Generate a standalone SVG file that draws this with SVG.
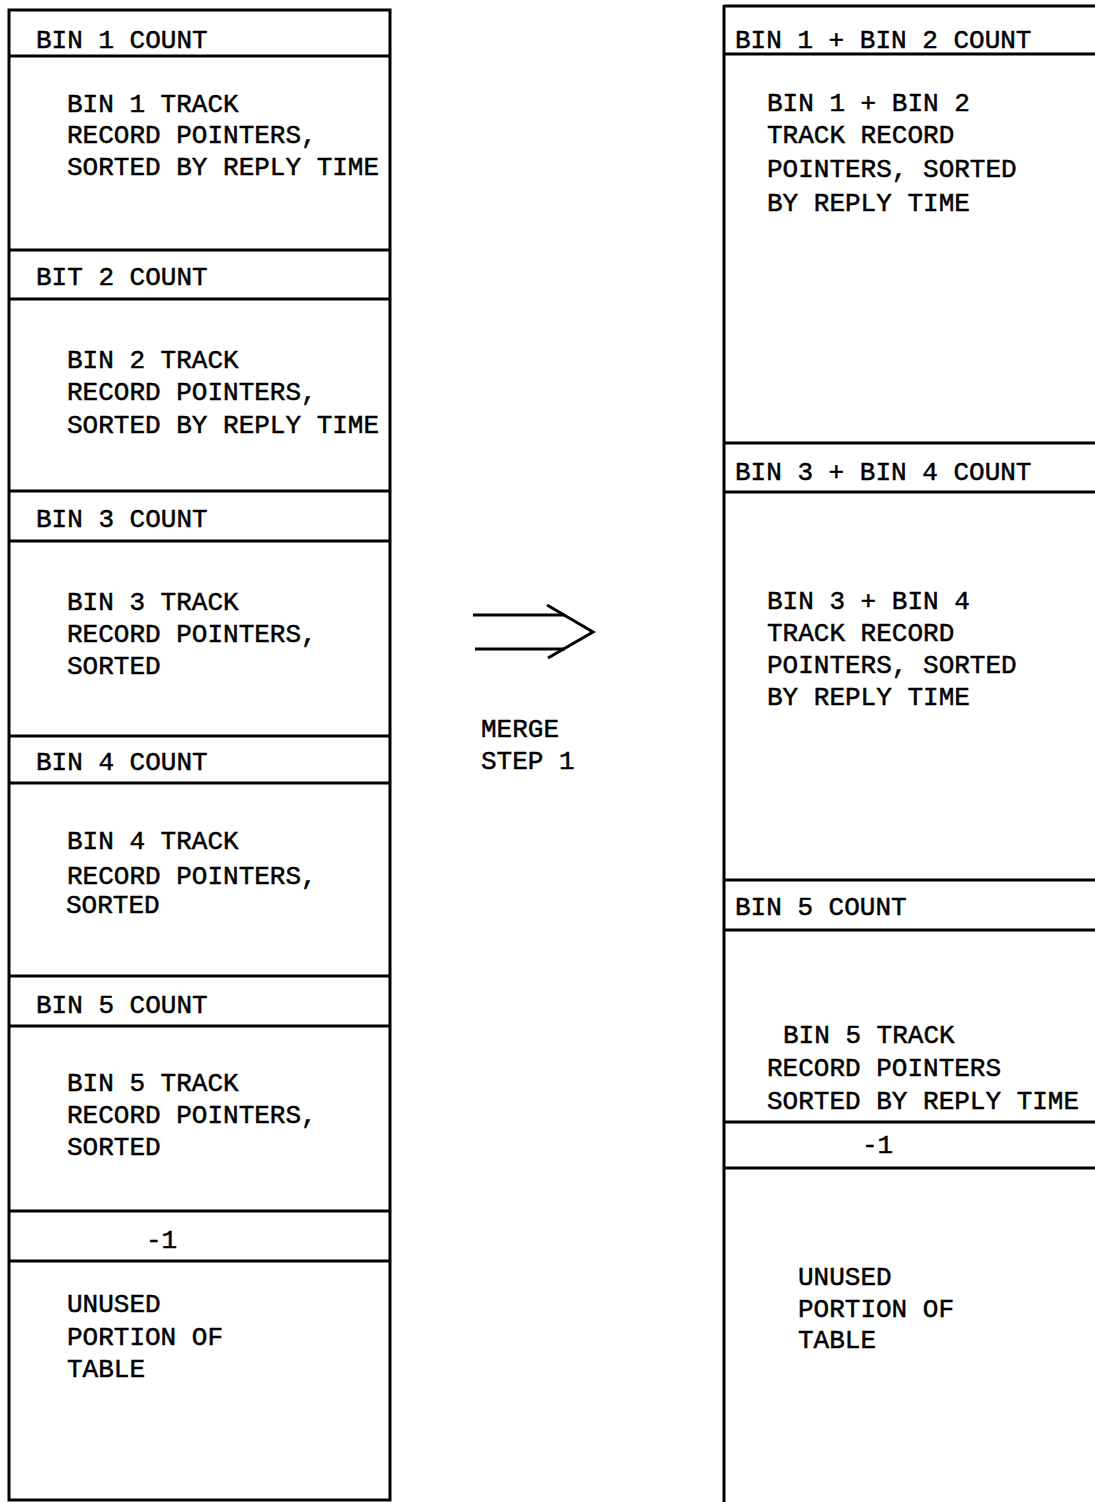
<svg xmlns="http://www.w3.org/2000/svg" width="1095" height="1502" viewBox="0 0 1095 1502">
<style>
.box{fill:none;stroke:#000;stroke-width:3}
.ln{stroke:#000;stroke-width:3;fill:none}
text{font-family:"Liberation Mono","Courier New",monospace;font-size:26px;fill:#000;stroke:#000;stroke-width:0.5}
</style>
<rect width="1095" height="1502" fill="#fff"/>
<g id="left-table">
  <rect class="box" x="9" y="10" width="381" height="1490"/>
  <line class="ln" x1="9" y1="56" x2="390" y2="56"/>
  <line class="ln" x1="9" y1="250" x2="390" y2="250"/>
  <line class="ln" x1="9" y1="299" x2="390" y2="299"/>
  <line class="ln" x1="9" y1="491" x2="390" y2="491"/>
  <line class="ln" x1="9" y1="541" x2="390" y2="541"/>
  <line class="ln" x1="9" y1="736" x2="390" y2="736"/>
  <line class="ln" x1="9" y1="783" x2="390" y2="783"/>
  <line class="ln" x1="9" y1="976" x2="390" y2="976"/>
  <line class="ln" x1="9" y1="1026" x2="390" y2="1026"/>
  <line class="ln" x1="9" y1="1211" x2="390" y2="1211"/>
  <line class="ln" x1="9" y1="1261" x2="390" y2="1261"/>
</g>
<g id="L-bin1-count"><text x="36" y="48">BIN 1 COUNT</text></g>
<g id="L-bin1-body">
  <text x="67" y="112">BIN 1 TRACK</text>
  <text x="67" y="143">RECORD POINTERS,</text>
  <text x="67" y="175">SORTED BY REPLY TIME</text>
</g>
<g id="L-bin2-count"><text x="36" y="285">BIT 2 COUNT</text></g>
<g id="L-bin2-body">
  <text x="67" y="368">BIN 2 TRACK</text>
  <text x="67" y="400">RECORD POINTERS,</text>
  <text x="67" y="433">SORTED BY REPLY TIME</text>
</g>
<g id="L-bin3-count"><text x="36" y="527">BIN 3 COUNT</text></g>
<g id="L-bin3-body">
  <text x="67" y="610">BIN 3 TRACK</text>
  <text x="67" y="642">RECORD POINTERS,</text>
  <text x="67" y="674">SORTED</text>
</g>
<g id="L-bin4-count"><text x="36" y="770">BIN 4 COUNT</text></g>
<g id="L-bin4-body">
  <text x="67" y="849">BIN 4 TRACK</text>
  <text x="67" y="884">RECORD POINTERS,</text>
  <text x="66" y="913">SORTED</text>
</g>
<g id="L-bin5-count"><text x="36" y="1013">BIN 5 COUNT</text></g>
<g id="L-bin5-body">
  <text x="67" y="1091">BIN 5 TRACK</text>
  <text x="67" y="1123">RECORD POINTERS,</text>
  <text x="67" y="1155">SORTED</text>
</g>
<g id="L-end"><text x="146" y="1248">-1</text></g>
<g id="L-unused">
  <text x="67" y="1312">UNUSED</text>
  <text x="67" y="1345">PORTION OF</text>
  <text x="67" y="1377">TABLE</text>
</g>

<g id="right-table">
  <line class="ln" x1="724" y1="5" x2="724" y2="1502"/>
  <line class="ln" x1="724" y1="6" x2="1095" y2="6"/>
  <line class="ln" x1="724" y1="54" x2="1095" y2="54"/>
  <line class="ln" x1="724" y1="443" x2="1095" y2="443"/>
  <line class="ln" x1="724" y1="492" x2="1095" y2="492"/>
  <line class="ln" x1="724" y1="880" x2="1095" y2="880"/>
  <line class="ln" x1="724" y1="930" x2="1095" y2="930"/>
  <line class="ln" x1="724" y1="1122" x2="1095" y2="1122"/>
  <line class="ln" x1="724" y1="1168" x2="1095" y2="1168"/>
</g>
<g id="R-bin12-count"><text x="735" y="48">BIN 1 + BIN 2 COUNT</text></g>
<g id="R-bin12-body">
  <text x="767" y="111">BIN 1 + BIN 2</text>
  <text x="767" y="143">TRACK RECORD</text>
  <text x="767" y="177">POINTERS, SORTED</text>
  <text x="767" y="211">BY REPLY TIME</text>
</g>
<g id="R-bin34-count"><text x="735" y="480">BIN 3 + BIN 4 COUNT</text></g>
<g id="R-bin34-body">
  <text x="767" y="609">BIN 3 + BIN 4</text>
  <text x="767" y="641">TRACK RECORD</text>
  <text x="767" y="673">POINTERS, SORTED</text>
  <text x="767" y="705">BY REPLY TIME</text>
</g>
<g id="R-bin5-count"><text x="735" y="915">BIN 5 COUNT</text></g>
<g id="R-bin5-body">
  <text x="783" y="1043">BIN 5 TRACK</text>
  <text x="767" y="1076">RECORD POINTERS</text>
  <text x="767" y="1109">SORTED BY REPLY TIME</text>
</g>
<g id="R-end"><text x="862" y="1153">-1</text></g>
<g id="R-unused">
  <text x="798" y="1285">UNUSED</text>
  <text x="798" y="1317">PORTION OF</text>
  <text x="798" y="1348">TABLE</text>
</g>

<g id="connectors">
  <line class="ln" x1="473" y1="615" x2="565" y2="615"/>
  <line class="ln" x1="475" y1="649" x2="565" y2="649"/>
  <polyline class="ln" points="547,605 593,632 548,658"/>
</g>
<g id="merge-label">
  <text x="481" y="737">MERGE</text>
  <text x="481" y="769">STEP 1</text>
</g>
</svg>
